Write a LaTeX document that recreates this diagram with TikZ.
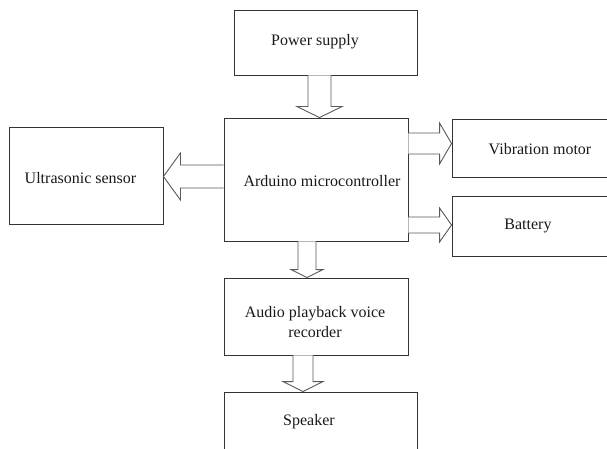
\documentclass[tikz,border=0pt]{standalone}
\usepackage{fontspec}
\setmainfont{Liberation Serif}
\usetikzlibrary{calc}
\tikzset{
  blk/.style={draw=black!80, line width=0.9pt, fill=white, inner sep=0pt},
  lbl/.style={inner sep=0pt, font=\fontsize{16}{20}\selectfont, align=center, text=black!90},
  barrow/.style={draw=black!65, line width=0.9pt, fill=white, line join=miter},
}
% vertical block arrow: #1 top point, #2 tip, #3 half shaft, #4 half head, #5 head length
\newcommand{\darrow}[5]{%
  \draw[barrow] let \p1=#1, \p2=#2 in
    ({\x2-#3},{\y1}) -- ({\x2-#3},{\y2+#5}) -- ({\x2-#4},{\y2+#5}) -- (\x2,\y2)
    -- ({\x2+#4},{\y2+#5}) -- ({\x2+#3},{\y2+#5}) -- ({\x2+#3},{\y1});}
% horizontal block arrow: #1 start point, #2 tip, #3 half shaft, #4 half head, #5 signed head length
\newcommand{\harrow}[5]{%
  \draw[barrow] let \p1=#1, \p2=#2 in
    ({\x1},{\y2+#3}) -- ({\x2-(#5)},{\y2+#3}) -- ({\x2-(#5)},{\y2+#4}) -- (\x2,\y2)
    -- ({\x2-(#5)},{\y2-#4}) -- ({\x2-(#5)},{\y2-#3}) -- ({\x1},{\y2-#3});}
\begin{document}
\begin{tikzpicture}[x=1pt,y=1pt]
\useasboundingbox (0,0) rectangle (607,448);
% boxes
\node[blk, minimum width=183pt, minimum height=65pt] (ps) at (325.5,405.5) {};
\node[blk, minimum width=184pt, minimum height=123pt] (ard) at (316,268.5) {};
\node[blk, minimum width=154pt, minimum height=97pt] (us) at (86,272.5) {};
\node[blk, minimum width=168pt, minimum height=58pt] (vm) at (536,300) {};
\node[blk, minimum width=168pt, minimum height=60pt] (bat) at (536,222) {};
\node[blk, minimum width=184pt, minimum height=77pt] (aud) at (316,131.5) {};
\node[blk, minimum width=193pt, minimum height=68pt] (spk) at (320.5,22) {};
% labels
\node[lbl] (tps) at (315,406) {Power supply};
\node[lbl] (tard) at (322,267) {Arduino microcontroller};
\node[lbl] (tus) at (80.5,270) {Ultrasonic sensor};
\node[lbl] (tvm) at (540,299) {Vibration motor};
\node[lbl] (tbat) at (528,222) {Battery};
\node[lbl] (taud) at (315,126) {Audio playback voice\\recorder};
\node[lbl] (tspk) at (309,26) {Speaker};
% block arrows
\darrow{($(ps.south)+(-6,0)$)}{($(ard.north)+(3.5,0)$)}{11.5pt}{22.5pt}{11pt}
\darrow{($(ard.south)+(-9,0)$)}{($(aud.north)+(-9,0)$)}{9pt}{16pt}{8pt}
\darrow{($(aud.south)+(-13,0)$)}{($(spk.north)+(-17.5,0)$)}{10pt}{20pt}{10pt}
\harrow{(ard.west)}{($(us.east)+(0,-1)$)}{11.5pt}{23.5pt}{-17pt}
\harrow{(ard.east)}{($(vm.west)+(0,4.5)$)}{10.5pt}{20.5pt}{12pt}
\harrow{(ard.east)}{($(bat.west)+(0,1)$)}{8pt}{17pt}{12pt}
\end{tikzpicture}
\end{document}
